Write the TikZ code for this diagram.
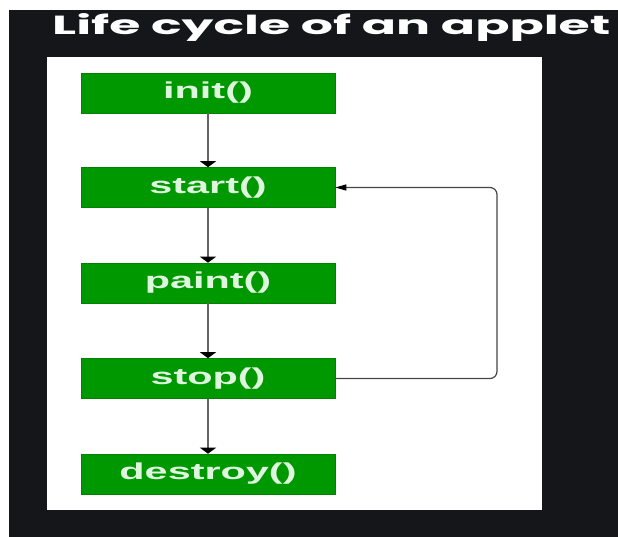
\documentclass[tikz,border=0pt]{standalone}
\usepackage{fontspec}
\setmainfont{Liberation Sans}
\newfontfamily\titlefont{Poppins}
\usetikzlibrary{arrows.meta}
\definecolor{bgdark}{RGB}{21,22,26}
\definecolor{boxgreen}{RGB}{0,152,0}
\definecolor{boxedge}{RGB}{0,130,0}
\definecolor{labelcol}{RGB}{222,245,222}
\definecolor{shaftgray}{RGB}{100,100,100}
\definecolor{loopgray}{RGB}{70,70,70}
\tikzset{
  stepbox/.style={fill=boxgreen, draw=boxedge, line width=0.6pt, minimum width=254pt, minimum height=40pt, inner sep=0pt, anchor=center},
  flowarrow/.style={draw=shaftgray, line width=2.4pt, -{Triangle[width=16pt,length=6pt,color=black]}},
  looparrow/.style={draw=loopgray, line width=1.2pt, rounded corners=7pt, -{Triangle[width=6pt,length=11pt,color=black]}}
}
\newcommand{\boxlabel}[1]{\textcolor{labelcol}{\raisebox{-1.5pt}{\scalebox{1.8}[1]{\fontsize{23}{23}\selectfont\bfseries #1}}}}
\begin{document}
\begin{tikzpicture}[x=1pt,y=1pt]
\useasboundingbox (0,0) rectangle (618,-537);
\fill[white] (0,0) rectangle (618,-537);
\fill[bgdark] (9,-10) rectangle (618,-537);
\fill[white] (47,-57) rectangle (542,-510);
\node[anchor=base west, inner sep=0pt, text=white] (title) at (52,-35)
  {\resizebox{558pt}{21pt}{\titlefont\bfseries Life cycle of an applet}};
\node[stepbox] (init) at (208,-93) {\boxlabel{init()}};
\node[stepbox] (start) at (208,-187.5) {\boxlabel{start()}};
\node[stepbox] (paint) at (208,-283) {\boxlabel{paint()}};
\node[stepbox] (stop) at (208,-378.5) {\boxlabel{stop()}};
\node[stepbox] (destroy) at (208,-474) {\boxlabel{destroy()}};
\draw[flowarrow] (init) -- (start);
\draw[flowarrow] (start) -- (paint);
\draw[flowarrow] (paint) -- (stop);
\draw[flowarrow] (stop) -- (destroy);
\coordinate (lb) at (497,-378.5);
\coordinate (lt) at (497,-187.5);
\draw[looparrow] (stop.east) -- (lb) -- (lt) -- (start.east);
\end{tikzpicture}
\end{document}
